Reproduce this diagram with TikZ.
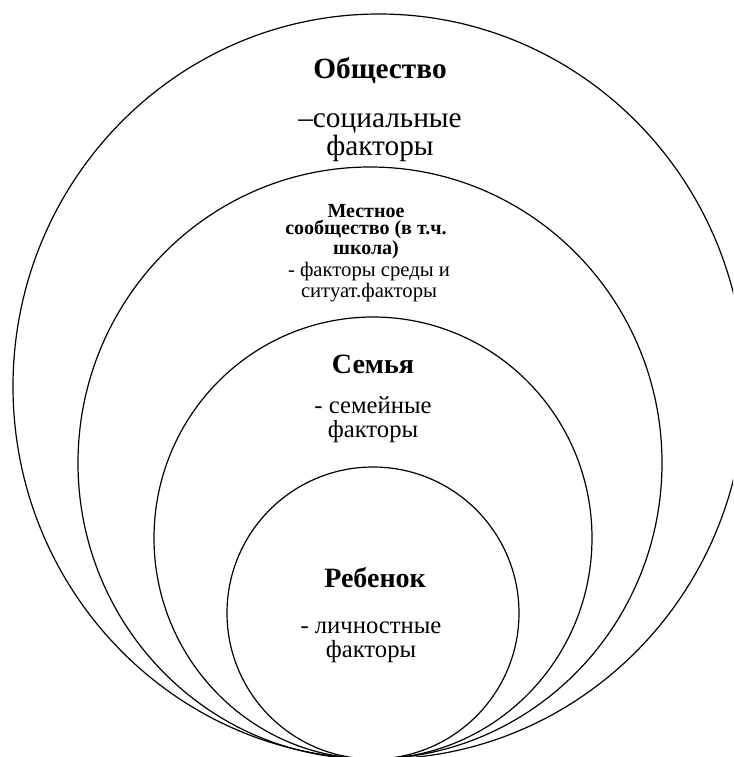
\documentclass[tikz,border=0pt]{standalone}
\usepackage{fontspec}
\setmainfont{Liberation Serif}
\usetikzlibrary{positioning}

\begin{document}
\begin{tikzpicture}[x=0.75pt, y=-0.75pt,
  ring/.style={line width=0.9pt},
  bigtitle/.style={anchor=base, font=\bfseries\fontsize{22}{20}\selectfont},
  bigtext/.style={anchor=base, align=center, font=\fontsize{22}{18}\selectfont},
  smalltitle/.style={anchor=base, align=center, font=\bfseries\fontsize{15}{12.8}\selectfont},
  smalltext/.style={anchor=base, align=center, font=\fontsize{15.5}{11.3}\selectfont},
  midtitle/.style={anchor=base, font=\bfseries\fontsize{21}{20}\selectfont},
  midtext/.style={anchor=base, align=center, font=\fontsize{18.5}{18}\selectfont}]

\useasboundingbox (0,0) rectangle (733,757);

% circles, all touching at the bottom
\begin{scope}
\clip (0,0) rectangle (733,757);
\draw [ring] (379,386.5) ellipse [x radius=366, y radius=372.5];
\draw [ring] (370,463) ellipse [x radius=292, y radius=296];
\draw [ring] (373,538) ellipse [x radius=219, y radius=221];
\draw [ring] (373,613) ellipse [x radius=146, y radius=146];
\end{scope}

% society
\node (obsh) [bigtitle] at (380,78) {Общество};
\node (obshf) [bigtext] at (380,155) {–социальные\\факторы};

% local community
\node (mest) [smalltitle] at (366,254) {Местное\\сообщество (в т.ч.\\школа)};
\node (mestf) [smalltext] at (369,297) {- факторы среды и\\ситуат.факторы};

% family
\node (sem) [midtitle] at (373,373) {Семья};
\node (semf) [midtext] at (373,437) {- семейные\\факторы};

% child
\node (reb) [midtitle] at (375,587) {Ребенок};
\node (rebf) [midtext] at (371,657) {- личностные\\факторы};
\end{tikzpicture}
\end{document}
